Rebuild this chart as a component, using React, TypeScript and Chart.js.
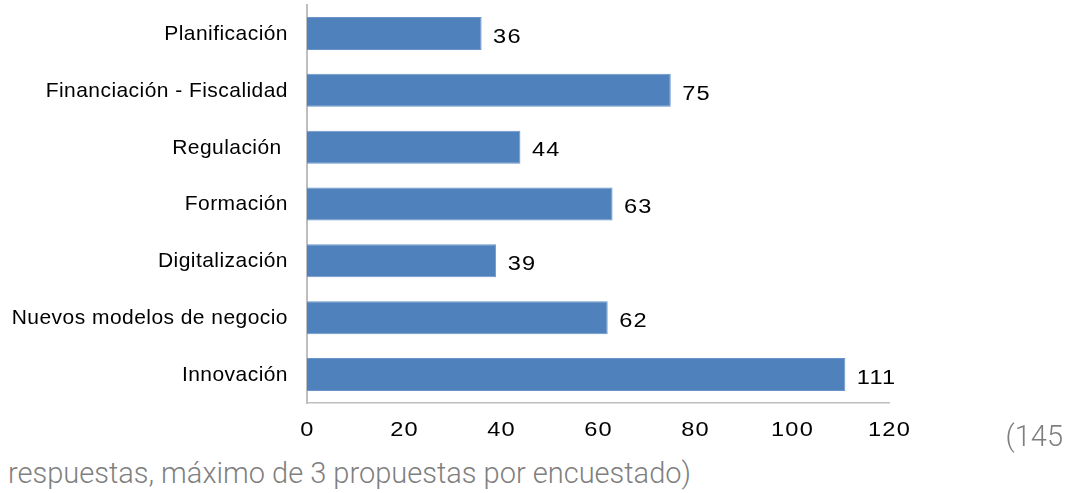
import React, { useEffect, useRef } from "react";
import { Chart, registerables } from "chart.js";

Chart.register(...registerables);

const categories = [
  "Planificación",
  "Financiación - Fiscalidad",
  "Regulación ",
  "Formación",
  "Digitalización",
  "Nuevos modelos de negocio",
  "Innovación",
];
const values = [36, 75, 44, 63, 39, 62, 111];
const xMin = 0;
const xMax = 120;
const xStep = 20;
const noteLine1 = "(145";
const noteLine2 = "respuestas, máximo de 3 propuestas por encuestado)";

const BAR_COLOR = "#4F81BD";
const BAR_EDGE = "#6A94C8";
const AXIS_COLOR = "#BFBFBF";
const FONT = '"Liberation Sans", Arial, sans-serif';

function drawStretched(ctx: CanvasRenderingContext2D, text: string, x: number, y: number, align: CanvasTextAlign) {
  ctx.save();
  ctx.translate(x, y);
  ctx.scale(1.18, 1);
  ctx.textAlign = align;
  ctx.fillText(text, 0, 0);
  ctx.restore();
}

const textPlugin = {
  id: "customText",
  beforeDraw(chart: any) {
    chart.ctx.letterSpacing = "0.45px";
  },
  beforeDatasetsDraw(chart: any) {
    chart.ctx.letterSpacing = "0px";
  },
  afterDatasetsDraw(chart: any) {
    const ctx = chart.ctx;
    ctx.save();
    const ls = 1;
    ctx.letterSpacing = ls + "px";
    ctx.font = "20px " + FONT;
    ctx.fillStyle = "#000";
    ctx.textBaseline = "alphabetic";
    const meta = chart.getDatasetMeta(0);
    meta.data.forEach((bar: any, i: number) => {
      drawStretched(ctx, String(values[i]), bar.x + 11.5, bar.y + 9.3, "left");
    });
    const xs = chart.scales.x;
    xs.ticks.forEach((t: any) => {
      drawStretched(ctx, String(t.value), xs.getPixelForValue(t.value) + ls / 2, chart.chartArea.bottom + 33, "center");
    });
    ctx.restore();
  },
};

export default function App() {
  const ref = useRef<HTMLCanvasElement | null>(null);
  useEffect(() => {
    if (!ref.current) return;
    const chart = new Chart(ref.current, {
      type: "bar",
      data: {
        labels: categories,
        datasets: [
          {
            data: values,
            backgroundColor: BAR_COLOR,
            borderColor: BAR_EDGE,
            borderWidth: 1,
            barPercentage: 0.58,
            categoryPercentage: 1,
          },
        ],
      },
      options: {
        indexAxis: "y",
        responsive: false,
        animation: false,
        layout: { padding: { top: 5, right: 185, left: 0, bottom: 0 } },
        plugins: { legend: { display: false }, tooltip: { enabled: false } },
        scales: {
          x: {
            min: xMin,
            max: xMax,
            ticks: { stepSize: xStep, display: false },
            grid: { display: false, drawTicks: false },
            border: { display: true, color: AXIS_COLOR, width: 1.5 },
            afterFit: (s: any) => {
              s.height = 42;
              s.paddingLeft = 0;
              s.paddingRight = 0;
            },
          },
          y: {
            ticks: {
              color: "#000",
              font: { family: FONT, size: 21 },
              padding: 19,
              labelOffset: 0.7,
            },
            grid: { display: false, drawTicks: false },
            border: { display: true, color: AXIS_COLOR, width: 2 },
            afterFit: (s: any) => {
              s.width = 307;
              s.paddingTop = 0;
              s.paddingBottom = 0;
            },
          },
        },
      } as any,
      plugins: [textPlugin],
    });
    return () => chart.destroy();
  }, []);

  const noteStyle: React.CSSProperties = {
    position: "absolute",
    fontFamily: "Roboto, sans-serif",
    fontWeight: 300,
    fontSize: 29,
    lineHeight: "29px",
    color: "#7F7F7F",
    whiteSpace: "nowrap",
  };

  return (
    <div
      style={{
        position: "absolute",
        left: 0,
        top: 0,
        width: 1074,
        height: 493,
        overflow: "hidden",
        background: "#fff",
      }}
    >
      <canvas
        ref={ref}
        width={1074}
        height={445}
        style={{ position: "absolute", left: 0, top: 0, display: "block" }}
      />
      <div style={{ ...noteStyle, top: 422, left: 0, width: 1063, textAlign: "right" }}>{noteLine1}</div>
      <div style={{ ...noteStyle, top: 459, left: 8 }}>{noteLine2}</div>
    </div>
  );
}
